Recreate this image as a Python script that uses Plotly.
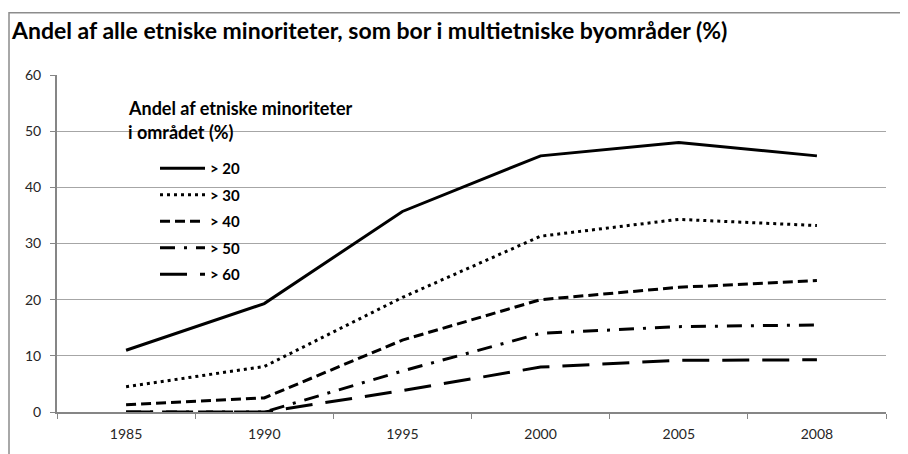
import plotly.graph_objects as go

years = ["1985", "1990", "1995", "2000", "2005", "2008"]
series_names = ["> 20", "> 30", "> 40", "> 50", "> 60"]
v20 = [11.0, 19.3, 35.7, 45.6, 48.0, 45.6]
v30 = [4.5, 8.1, 20.4, 31.3, 34.3, 33.2]
v40 = [1.3, 2.5, 12.8, 20.0, 22.2, 23.4]
v50 = [0.0, 0.0, 7.3, 14.0, 15.2, 15.5]
v60 = [0.0, 0.0, 3.8, 8.0, 9.2, 9.3]
values = [v20, v30, v40, v50, v60]
dashes = ["solid", "3px,4px", "10px,5px", "15px,9px,3px,9px", "27px,13px"]
legend_title_lines = ["Andel af etniske minoriteter", "i området (%)"]

FONT = "Lato"
fig = go.Figure()
for i, (name, vals, d) in enumerate(zip(series_names, values, dashes)):
    fig.add_trace(go.Scatter(
        x=years, y=vals, name=f"<b>{name}</b>", mode="lines",
        line=dict(color="black", width=3, dash=d),
        legendgroup=f"g{i}", cliponaxis=False,
    ))

OFF = 8  # page body margin
W, H = 908 - OFF, 454 - OFF
# desired screen coordinates of the plot area
SL, SR, ST, SB = 57, 886, 75, 416
L, T = SL - OFF, ST - OFF
R = W - (SR - OFF)
B = H - (SB - OFF)
pw, ph = W - L - R, H - T - B

def px_x(p):
    return (p - OFF - L) / pw

def px_y(p):
    return (H - B - (p - OFF)) / ph

annotations = []
for line_text, yc in zip(legend_title_lines, [108, 133]):
    annotations.append(dict(
        text=f"<b>{line_text}</b>",
        xref="paper", yref="paper", x=px_x(126), y=px_y(yc),
        xanchor="left", yanchor="middle", align="left", showarrow=False,
        font=dict(family=FONT, size=18, color="black"),
    ))

fig.update_layout(
    width=W, height=H,
    margin=dict(l=L, r=R, t=T, b=B),
    paper_bgcolor="white", plot_bgcolor="white",
    font=dict(family=FONT, color="#262626", size=14),
    title=dict(
        text="<b>Andel af alle etniske minoriteter, som bor i multietniske byområder (%)</b>",
        x=(12 - OFF) / W, xanchor="left", y=1 - (31 - OFF) / H, yanchor="middle",
        font=dict(family=FONT, size=23, color="black"),
    ),
    showlegend=True,
    legend=dict(
        x=px_x(155), xanchor="left", y=px_y(153), yanchor="top",
        font=dict(family=FONT, size=15, color="black"),
        bgcolor="rgba(0,0,0,0)", borderwidth=0,
        traceorder="grouped", tracegroupgap=4, itemwidth=45,
    ),
    xaxis=dict(
        type="category", range=[-0.5, 5.5],
        showline=True, linecolor="#868686", linewidth=2,
        ticks="outside", tickson="boundaries", ticklen=5, tickcolor="#868686", tickwidth=1,
        ticklabelstandoff=8,
        showgrid=False, tickfont=dict(size=14, color="#262626"),
    ),
    yaxis=dict(
        range=[0, 60], dtick=10, tick0=0,
        showline=True, linecolor="#868686", linewidth=2,
        ticks="outside", ticklen=5, tickcolor="#868686", tickwidth=1,
        ticklabelstandoff=6,
        showgrid=True, gridcolor="#a6a6a6", gridwidth=1, zeroline=False,
        tickfont=dict(size=14, color="#262626"),
    ),
    annotations=annotations,
    shapes=[dict(
        type="rect", xref="paper", yref="paper",
        x0=px_x(9), x1=px_x(940), y0=px_y(480), y1=px_y(12),
        line=dict(color="#8c8c8c", width=1.5), fillcolor="rgba(0,0,0,0)", layer="below",
    )],
)

fig.write_html("out.html")
